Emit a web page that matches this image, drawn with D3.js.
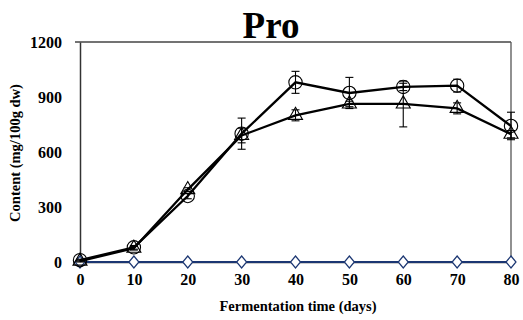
<!DOCTYPE html>
<html>
<head>
<meta charset="utf-8">
<script src="https://cdn.jsdelivr.net/npm/d3@7"></script>
<style>
  body { margin: 0; background: #fff; }
  svg { font-family: "Liberation Serif", "Times New Roman", serif; }
</style>
</head>
<body>
<div id="chart"></div>
<script>
// data
var days = [0, 10, 20, 30, 40, 50, 60, 70, 80];
var circleVals = [10, 80, 360, 700, 980, 922, 955, 962, 742];
var circleErr = [5, 10, 15, 85, 60, 85, 20, 35, 75];
var triangleVals = [5, 75, 395, 690, 800, 862, 862, 838, 697];
var triangleErr = [5, 10, 10, 40, 30, 15, 125, 30, 20];
var diamondVals = [0, 0, 0, 0, 0, 0, 0, 0, 0];
var yTicks = [0, 300, 600, 900, 1200];

var width = 523, height = 320;
var margin = {top: 42, right: 12, bottom: 58, left: 80};
var w = width - margin.left - margin.right;
var h = height - margin.top - margin.bottom;

var svg = d3.select("#chart").append("svg")
  .attr("width", width)
  .attr("height", height);

var g = svg.append("g")
  .attr("transform", "translate(" + margin.left + "," + margin.top + ")");

var x = d3.scaleLinear().domain([0, 80]).range([0, w]);
var y = d3.scaleLinear().domain([0, 1200]).range([h, 0]);

// frame
g.append("line")
  .attr("x1", -5).attr("x2", w)
  .attr("y1", 0).attr("y2", 0)
  .attr("stroke", "#444").attr("stroke-width", 1.3);
g.append("line")
  .attr("x1", w).attr("x2", w)
  .attr("y1", 0).attr("y2", h)
  .attr("stroke", "#555").attr("stroke-width", 1.3);

var yAxis = g.append("g")
  .call(d3.axisLeft(y).tickValues(yTicks).tickFormat(d3.format("d")).tickSize(0).tickPadding(18));
yAxis.select(".domain").attr("stroke", "#333").attr("stroke-width", 1.5);
yAxis.selectAll("text")
  .attr("font-size", 16).attr("font-weight", "bold").attr("fill", "#000")
  .attr("font-family", "Liberation Serif");

var xAxis = g.append("g")
  .attr("transform", "translate(0," + h + ")")
  .call(d3.axisBottom(x).tickValues(days).tickSize(0).tickPadding(12));
xAxis.select(".domain").attr("stroke", "#333").attr("stroke-width", 1.5);
xAxis.selectAll("text")
  .attr("font-size", 16).attr("font-weight", "bold").attr("fill", "#000")
  .attr("font-family", "Liberation Serif");

// navy series along zero
var navy = "#1b3672";
var dData = days.map(function(d, i) { return {day: d, v: diamondVals[i]}; });
g.append("path")
  .datum(dData)
  .attr("fill", "none")
  .attr("stroke", navy)
  .attr("stroke-width", 2.2)
  .attr("d", d3.line().x(function(d) { return x(d.day); }).y(function(d) { return y(d.v); }));
g.selectAll(".diamond").data(dData).enter()
  .append("path")
  .attr("class", "diamond")
  .attr("transform", function(d) { return "translate(" + x(d.day) + "," + y(d.v) + ")"; })
  .attr("d", "M0,-6L5,0L0,6L-5,0Z")
  .attr("fill", "#fff")
  .attr("stroke", navy)
  .attr("stroke-width", 1.2);

function drawSeries(vals, errs, symbol, size) {
  var data = days.map(function(d, i) { return {day: d, v: vals[i], e: errs[i]}; });
  g.append("path")
    .datum(data)
    .attr("fill", "none")
    .attr("stroke", "#000")
    .attr("stroke-width", 2.3)
    .attr("d", d3.line().x(function(d) { return x(d.day); }).y(function(d) { return y(d.v); }));

  var eb = g.append("g").attr("stroke", "#000").attr("stroke-width", 1.1);
  data.forEach(function(d) {
    var cx = x(d.day);
    eb.append("line").attr("x1", cx).attr("x2", cx).attr("y1", y(d.v - d.e)).attr("y2", y(d.v + d.e));
    eb.append("line").attr("x1", cx - 4).attr("x2", cx + 4).attr("y1", y(d.v - d.e)).attr("y2", y(d.v - d.e));
    eb.append("line").attr("x1", cx - 4).attr("x2", cx + 4).attr("y1", y(d.v + d.e)).attr("y2", y(d.v + d.e));
  });

  g.append("g").selectAll("path").data(data).enter()
    .append("path")
    .attr("transform", function(d) { return "translate(" + x(d.day) + "," + y(d.v) + ")"; })
    .attr("d", d3.symbol().type(symbol).size(size))
    .attr("fill", "none")
    .attr("stroke", "#000")
    .attr("stroke-width", 1.1);
}

drawSeries(triangleVals, triangleErr, d3.symbolTriangle, 85);
drawSeries(circleVals, circleErr, d3.symbolCircle, 140);

// titles
svg.append("text")
  .attr("x", 271).attr("y", 38)
  .attr("text-anchor", "middle")
  .attr("font-size", 37).attr("font-weight", "bold")
  .text("Pro");

svg.append("text")
  .attr("x", 298).attr("y", 311)
  .attr("text-anchor", "middle")
  .attr("font-size", 14.5).attr("font-weight", "bold")
  .text("Fermentation time (days)");

svg.append("text")
  .attr("transform", "translate(20,153) rotate(-90)")
  .attr("text-anchor", "middle")
  .attr("font-size", 14.5).attr("font-weight", "bold")
  .text("Content (mg/100g dw)");
</script>
</body>
</html>
